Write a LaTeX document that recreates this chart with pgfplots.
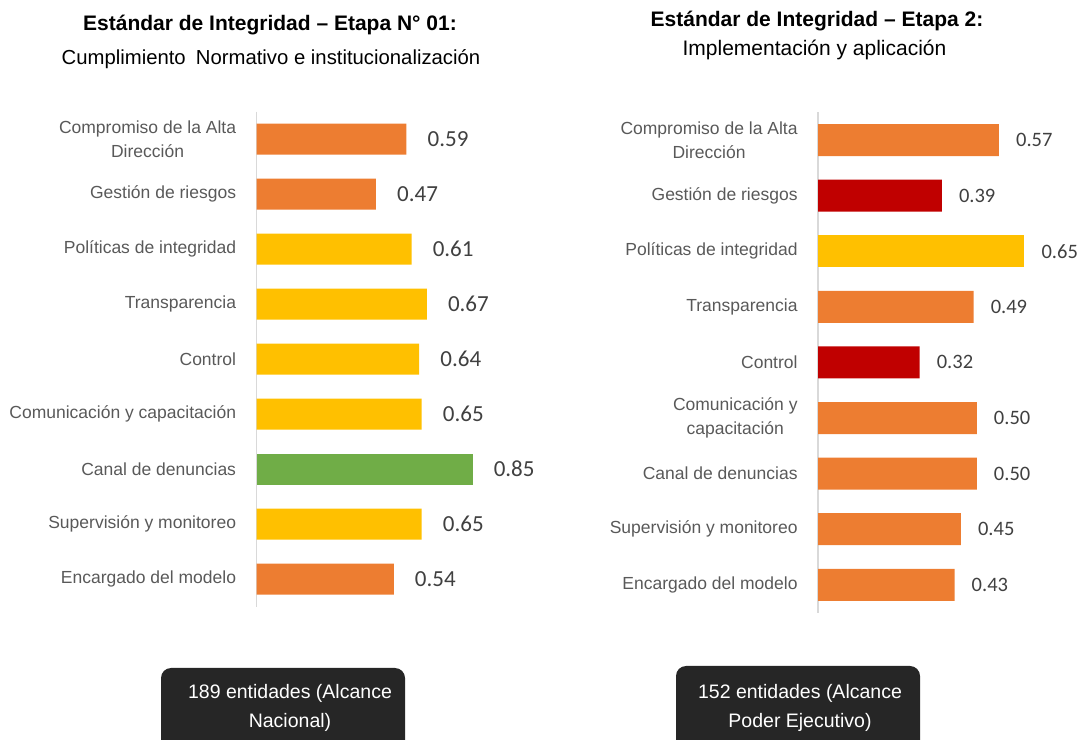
\documentclass[border=0pt]{standalone}
\usepackage{pgfplots}
\pgfplotsset{compat=1.18}
\usepackage{fontspec}
\setmainfont{Liberation Sans}
\newfontfamily\calibri{Carlito}
\definecolor{cOrange}{HTML}{ED7D31}
\definecolor{cYellow}{HTML}{FFC000}
\definecolor{cGreen}{HTML}{70AD47}
\definecolor{cRed}{HTML}{C00000}
\definecolor{catText}{HTML}{595959}
\definecolor{valText}{HTML}{404040}
\definecolor{axGray}{HTML}{D9D9D9}
\definecolor{boxFill}{HTML}{262626}

\pgfplotsset{
  mybar/.style={
    xbar, scale only axis, y dir=reverse,
    ymin=-0.5, ymax=8.5, xmin=0,
    axis line style={draw=none},
    xtick=\empty, ytick={0,...,8},
    ytick style={draw=none},
    yticklabel style={font=\fontsize{17.5bp}{23.5bp}\selectfont, text=catText, align=center, inner sep=0pt, anchor=east, xshift=-16bp},
    clip=false,
    point meta=x,
    nodes near coords={\pgfmathprintnumber[fixed,fixed zerofill,precision=2]{\pgfplotspointmeta}},
    /pgf/number format/assume math mode=true,
    every node near coord/.append style={inner sep=0pt, anchor=west, text=valText},
  }
}

\begin{document}
\begin{tikzpicture}
\path[use as bounding box] (0,0) rectangle (1083bp,740bp);
\clip (0,0) rectangle (1083bp,740bp);

% Titles
\node[anchor=base, font=\bfseries\fontsize{21bp}{24bp}\selectfont] at (270bp,709bp) {Estándar de Integridad – Etapa N° 01:};
\node[anchor=base, font=\fontsize{20.3bp}{24bp}\selectfont] at (271bp,675bp) {Cumplimiento\hspace{0.5em}Normativo e institucionalización};
\node[anchor=base, font=\bfseries\fontsize{21bp}{24bp}\selectfont] at (817bp,713bp) {Estándar de Integridad – Etapa 2:};
\node[anchor=base, font=\fontsize{21bp}{24bp}\selectfont] at (814.5bp,684bp) {Implementación y aplicación};

% Left chart
\begin{axis}[mybar,
  at={(256.5bp,133.5bp)}, anchor=south west,
  width=300bp, height=495bp, xmax=1.1802,
  yticklabels={{Compromiso de la Alta\\Dirección},{Gestión de riesgos},{Políticas de integridad},{Transparencia},{Control},{Comunicación y capacitación},{Canal de denuncias},{Supervisión y monitoreo},{Encargado del modelo}},
  every node near coord/.append style={font=\calibri\fontsize{23bp}{23bp}\selectfont, xshift=21bp},
]
\draw[axGray, line width=1.5bp] (axis cs:0,-0.5) -- (axis cs:0,8.5);
\addplot[fill=cOrange, draw=none, bar width=31bp, bar shift=0pt] coordinates {(0.59,0) (0.47,1) (0.54,8)};
\addplot[fill=cYellow, draw=none, bar width=31bp, bar shift=0pt] coordinates {(0.61,2) (0.67,3) (0.64,4) (0.65,5) (0.65,7)};
\addplot[fill=cGreen, draw=none, bar width=31bp, bar shift=0pt] coordinates {(0.85,6)};
\end{axis}

% Right chart
\begin{axis}[mybar,
  at={(818bp,127.4bp)}, anchor=south west,
  width=260bp, height=500.4bp, xmax=0.8189,
  yticklabels={{Compromiso de la Alta\\Dirección},{Gestión de riesgos},{Políticas de integridad},{Transparencia},{Control},{Comunicación y\\capacitación},{Canal de denuncias},{Supervisión y monitoreo},{Encargado del modelo}},
  every node near coord/.append style={font=\calibri\fontsize{20.5bp}{20.5bp}\selectfont, xshift=17bp},
]
\draw[axGray, line width=1.5bp] (axis cs:0,-0.5) -- (axis cs:0,8.5);
\addplot[fill=cOrange, draw=none, bar width=32bp, bar shift=0pt] coordinates {(0.57,0) (0.49,3) (0.50,5) (0.50,6) (0.45,7) (0.43,8)};
\addplot[fill=cRed, draw=none, bar width=32bp, bar shift=0pt] coordinates {(0.39,1) (0.32,4)};
\addplot[fill=cYellow, draw=none, bar width=32bp, bar shift=0pt] coordinates {(0.65,2)};
\end{axis}

% Boxes
\fill[boxFill, rounded corners=10bp] (161bp,72bp) rectangle (405bp,-20bp);
\fill[boxFill, rounded corners=10bp] (676bp,74bp) rectangle (920bp,-20bp);
\node[anchor=base, text=white, font=\fontsize{19.5bp}{24bp}\selectfont] at (290bp,41bp) {189 entidades (Alcance};
\node[anchor=base, text=white, font=\fontsize{19.5bp}{24bp}\selectfont] at (290bp,13bp) {Nacional)};
\node[anchor=base, text=white, font=\fontsize{19.5bp}{24bp}\selectfont] at (800bp,41bp) {152 entidades (Alcance};
\node[anchor=base, text=white, font=\fontsize{19.5bp}{24bp}\selectfont] at (800bp,13bp) {Poder Ejecutivo)};
\end{tikzpicture}
\end{document}
